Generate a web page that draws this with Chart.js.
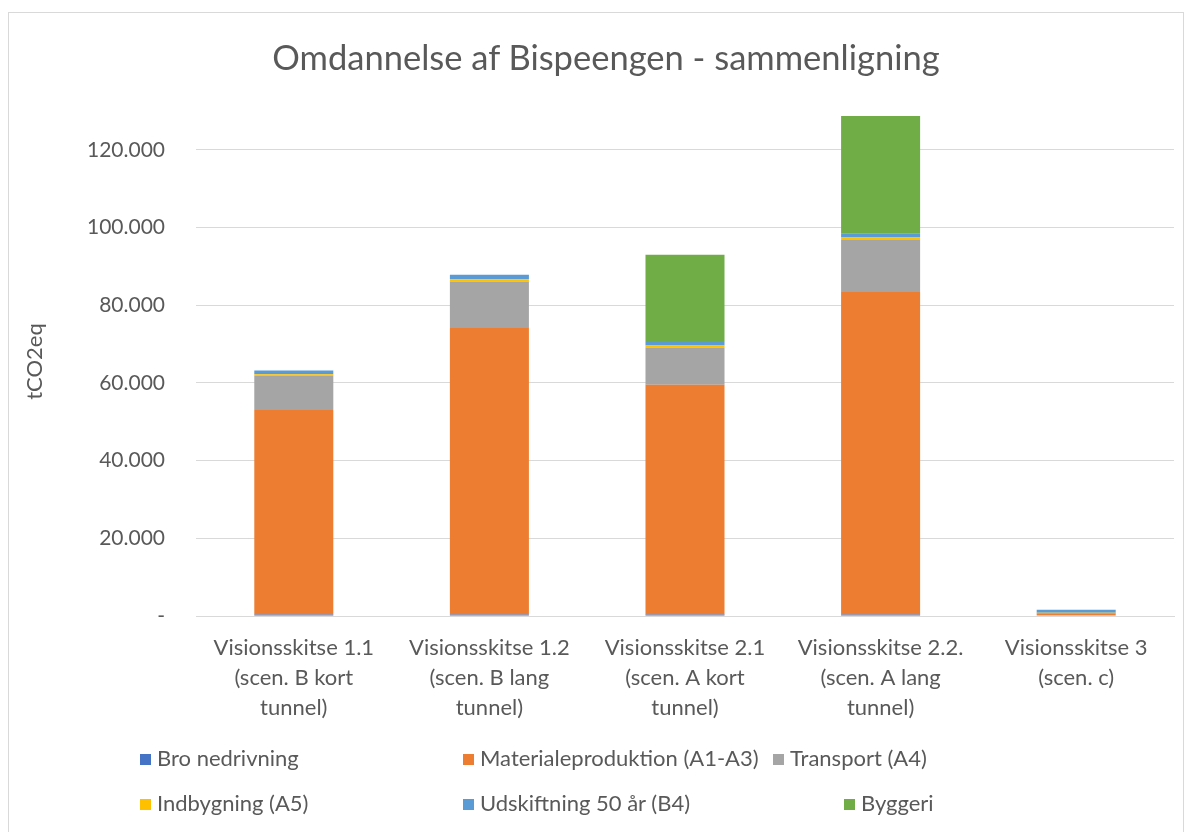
<!DOCTYPE html>
<html><head><meta charset="utf-8">
<script src="https://cdn.jsdelivr.net/npm/chart.js@4/dist/chart.umd.min.js"></script>
<style>
html,body{margin:0;padding:0;background:#fff;}
#wrap{position:absolute;left:0;top:0;width:1190px;height:832px;}
#frame{position:absolute;left:8px;top:12px;width:1176px;height:830px;border:1.5px solid #d9d9d9;box-sizing:border-box;pointer-events:none;}
#title{position:absolute;left:206px;width:800px;top:36px;text-align:center;font-family:Lato,"Liberation Sans",sans-serif;font-size:34.5px;line-height:42px;color:#595959;white-space:nowrap;}
.lg{position:absolute;font-family:Lato,"Liberation Sans",sans-serif;font-size:22px;color:#595959;white-space:nowrap;line-height:22px;}
.lg span.sw{display:inline-block;width:11px;height:11px;margin-right:6px;vertical-align:1px;}
</style></head>
<body>
<div id="wrap"><canvas id="c" width="1190" height="832"></canvas></div>
<div id="frame"></div>
<div id="title">Omdannelse af Bispeengen - sammenligning</div>
<div id="legend"></div>
<script>
const categories = [
  ["Visionsskitse 1.1","(scen. B kort","tunnel)"],
  ["Visionsskitse 1.2","(scen. B lang","tunnel)"],
  ["Visionsskitse 2.1","(scen. A kort","tunnel)"],
  ["Visionsskitse 2.2.","(scen. A lang","tunnel)"],
  ["Visionsskitse 3","(scen. c)"]
];
const seriesNames = ["Bro nedrivning","Materialeproduktion (A1-A3)","Transport (A4)","Indbygning (A5)","Udskiftning 50 år (B4)","Byggeri"];
const seriesColors = ["#4472C4","#ED7D31","#A5A5A5","#FFC000","#5B9BD5","#70AD47"];
const broNedrivning      = [400, 400, 400, 400, 100];
const materialeproduktion= [52600, 73700, 59100, 83000, 600];
const transport          = [8900, 12000, 9600, 13400, 100];
const indbygning         = [350, 600, 500, 600, 50];
const udskiftning        = [950, 1100, 950, 1100, 750];
const byggeri            = [0, 0, 22400, 30200, 0];
const yTickValues = [0, 20000, 40000, 60000, 80000, 100000, 120000];
const yTickLabels = ["-", "20.000", "40.000", "60.000", "80.000", "100.000", "120.000"];

const seriesData = [broNedrivning, materialeproduktion, transport, indbygning, udskiftning, byggeri];
const FONT = "Lato, 'Liberation Sans', sans-serif";
const GRAY = "#595959";

const datasets = seriesNames.map((n,i)=>({
  label:n, data:seriesData[i], backgroundColor:seriesColors[i],
  borderWidth:0, barPercentage:0.404, categoryPercentage:1
}));

new Chart(document.getElementById('c'), {
  type:'bar',
  data:{labels:categories, datasets},
  options:{
    responsive:false, animation:false,
    layout:{padding:{left:0,right:16,top:107,bottom:0}},
    plugins:{
      legend:{display:false},
      tooltip:{enabled:false},
      title:{display:false}
    },
    scales:{
      x:{stacked:true,
        grid:{display:false,drawTicks:false},
        border:{display:true,color:"#d9d9d9",width:1},
        ticks:{color:GRAY,font:{family:FONT,size:22,lineHeight:1.364},padding:17,maxRotation:0,autoSkip:false},
        afterFit:s=>{s.height=216;}
      },
      y:{stacked:true,min:0,max:131000,
        grid:{color:"#d9d9d9",drawTicks:false,lineWidth:1},
        border:{display:false},
        afterBuildTicks:s=>{s.ticks=yTickValues.map(v=>({value:v}));},
        ticks:{color:GRAY,font:{family:FONT,size:21},padding:31,
          callback:(v)=>{const i=yTickValues.indexOf(v);return i>=0?yTickLabels[i]:"";}},
        title:{display:true,text:"tCO2eq",color:GRAY,font:{family:FONT,size:22,weight:'normal'},padding:{top:22,bottom:0}},
        afterFit:s=>{s.width=196;}
      }
    }
  }
});

const legendPos = [[140,758],[463,758],[773,758],[140,803],[463,803],[844,803]];
const lg = document.getElementById('legend');
seriesNames.forEach((n,i)=>{
  const d=document.createElement('div');
  d.className='lg';
  d.style.left=legendPos[i][0]+'px';
  d.style.top=(legendPos[i][1]-11)+'px';
  d.innerHTML='<span class="sw" style="background:'+seriesColors[i]+'"></span>'+n;
  lg.appendChild(d);
});
</script>
</body></html>
